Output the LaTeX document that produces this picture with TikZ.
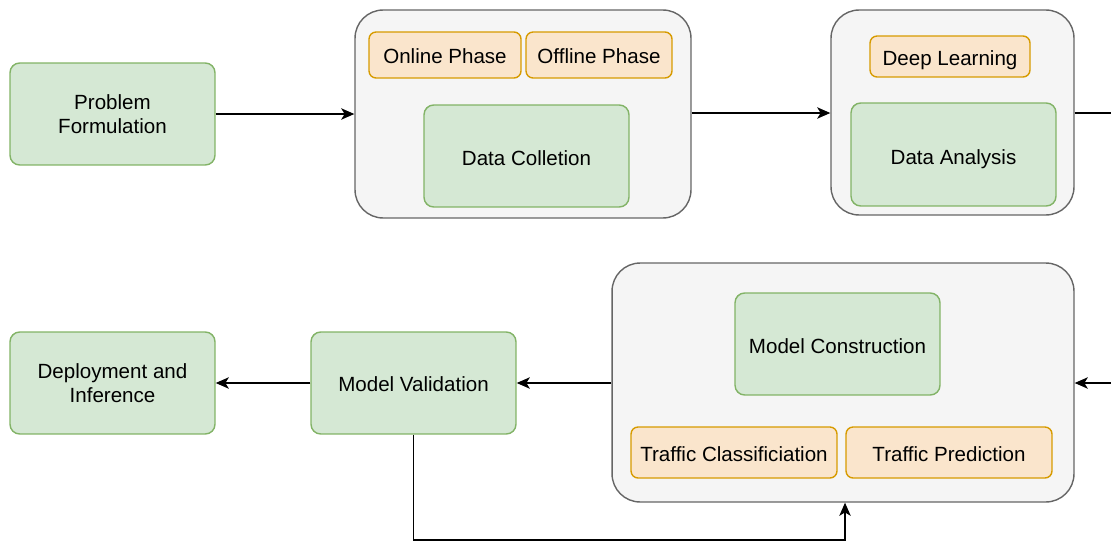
\documentclass[tikz,border=0pt]{standalone}
\usepackage{fontspec}
\setmainfont{Liberation Sans}
\usetikzlibrary{arrows.meta}
\definecolor{gfill}{HTML}{D5E8D4}
\definecolor{gline}{HTML}{82B366}
\definecolor{ofill}{HTML}{FAE5CC}
\definecolor{oline}{HTML}{D79B00}
\definecolor{cfill}{HTML}{F5F5F5}
\definecolor{cline}{HTML}{666666}
\tikzset{
  base/.style={draw, line width=0.8pt, inner sep=0pt, align=center,
    font=\fontsize{11.7}{13.8}\selectfont, text=black},
  one/.style={text height=11.2pt, text depth=0pt},
  oneo/.style={text height=9.8pt, text depth=0pt},
  greenbox/.style={base, fill=gfill, draw=gline, rounded corners=5.5pt},
  orangebox/.style={base, oneo, fill=ofill, draw=oline, rounded corners=4pt},
  container/.style={base, fill=cfill, draw=cline, rounded corners=16pt},
  conn/.style={line width=0.8pt, draw=black, -{Stealth[length=7.5pt,width=6.5pt,inset=2pt]}},
  plain/.style={line width=0.8pt, draw=black},
}
\begin{document}
\begin{tikzpicture}[x=0.02cm, y=-0.02cm]
\useasboundingbox (0,0) rectangle (1111,541);
% containers
\node[container, minimum width=6.72cm, minimum height=4.16cm] (c1) at (523,114) {};
\node[container, minimum width=4.86cm, minimum height=4.1cm] (c2) at (952.5,112.5) {};
\node[container, minimum width=9.24cm, minimum height=4.78cm] (c3) at (843,382.5) {};
% top row
\node[greenbox, minimum width=4.1cm, minimum height=2.04cm] (pf) at (112.5,114) {Problem\\Formulation};
\node[orangebox, minimum width=3.04cm, minimum height=0.92cm] (on) at (445,55) {Online Phase};
\node[orangebox, minimum width=2.92cm, minimum height=0.92cm] (off) at (599,55) {Offline Phase};
\node[greenbox, one, minimum width=4.1cm, minimum height=2.04cm] (dc) at (526.5,156) {Data Colletion};
\node[orangebox, minimum width=3.2cm, minimum height=0.82cm] (dl) at (950,56.5) {Deep Learning};
\node[greenbox, one, minimum width=4.1cm, minimum height=2.06cm] (da) at (953.5,154.5) {Data Analysis};
% bottom row
\node[greenbox, one, minimum width=4.1cm, minimum height=2.04cm] (mc) at (837.5,344) {Model Construction};
\node[orangebox, minimum width=4.12cm, minimum height=1.02cm] (tc) at (734,452.5) {Traffic Classificiation};
\node[orangebox, minimum width=4.12cm, minimum height=1.02cm] (tp) at (949,452.5) {Traffic Prediction};
\node[greenbox, oneo, minimum width=4.1cm, minimum height=2.04cm] (mv) at (413.5,383) {Model Validation};
\node[greenbox, minimum width=4.1cm, minimum height=2.04cm] (di) at (112.5,383) {Deployment and\\Inference};
% free ends
\coordinate (r1) at (1111,113);
\coordinate (r2) at (1111,383);
\coordinate (b1) at (414,540);
\coordinate (b2) at (845,540);
\coordinate (t1) at (0,113);
% connectors
\draw[conn] (pf.east) -- (pf.east -| c1.west);
\draw[conn] (c1.east |- t1) -- (c2.west |- t1);
\draw[plain] (c2.east |- r1) -- (r1);
\draw[conn] (r2) -- (c3.east |- r2);
\draw[conn] (c3.west |- mv.east) -- (mv.east);
\draw[conn] (mv.west) -- (di.east);
\draw[conn] (mv.south) -- (mv.south |- b1) -- (b2) -- (b2 |- c3.south);
\end{tikzpicture}
\end{document}
